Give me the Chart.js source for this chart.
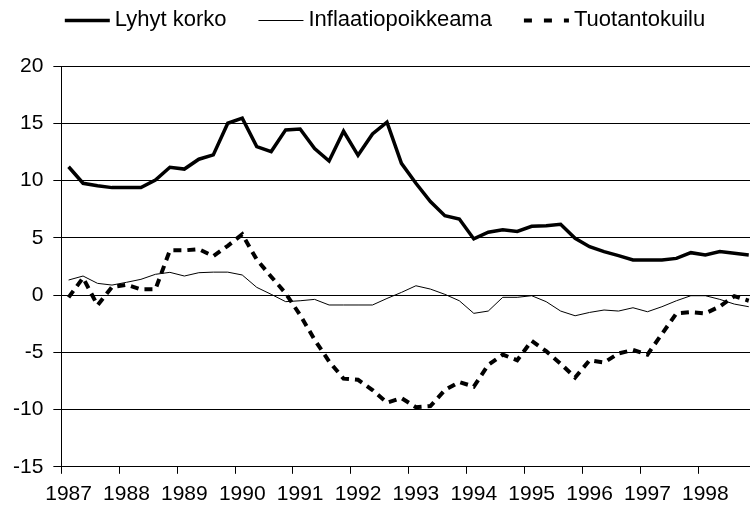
<!DOCTYPE html>
<html lang="fi">
<head>
    <meta charset="UTF-8">
    <title>Lyhyt korko, inflaatiopoikkeama ja tuotantokuilu</title>
    <style>
        html, body { margin: 0; padding: 0; overflow: hidden; background: #fff; }
        /* slightly larger than the window: the original picture is cropped on the right and bottom */
        .chart-box { width: 770px; height: 515px; }
    </style>
</head>
<body>
    <div class="chart-box">
        <canvas id="rateChart"></canvas>
    </div>

    <script src="https://cdn.jsdelivr.net/npm/chart.js"></script>
    <script>
        // Quarters 1987Q1 .. 1998Q4, only the first quarter of each year is labelled
        const years = ['1987', '1988', '1989', '1990', '1991', '1992', '1993', '1994', '1995', '1996', '1997', '1998'];
        const quarters = years.flatMap(y => [y, y + 'Q2', y + 'Q3', y + 'Q4']);

        const lyhytKorko = [
            11.2, 9.76, 9.55, 9.38, 9.38, 9.38, 10.05, 11.16,
            11.0, 11.86, 12.24, 15.0, 15.44, 12.96, 12.53, 14.42,
            14.5, 12.8, 11.7, 14.3, 12.2, 14.07, 15.1, 11.5,
            9.76, 8.16, 6.93, 6.64, 4.9, 5.48, 5.7, 5.55,
            6.0, 6.06, 6.18, 4.95, 4.22, 3.79, 3.44, 3.06,
            3.06, 3.06, 3.2, 3.7, 3.5, 3.79, 3.64, 3.5
        ];

        const inflaatiopoikkeama = [
            1.31, 1.66, 1.02, 0.87, 1.11, 1.37, 1.81, 1.98,
            1.66, 1.95, 2.0, 2.0, 1.75, 0.67, 0.06, -0.58,
            -0.5, -0.38, -0.87, -0.87, -0.87, -0.87, -0.3, 0.23,
            0.81, 0.52, 0.06, -0.5, -1.6, -1.4, -0.2, -0.2,
            -0.06, -0.58, -1.4, -1.81, -1.52, -1.31, -1.4, -1.11,
            -1.46, -1.02, -0.5, -0.06, -0.06, -0.38, -0.79, -1.02
        ];

        const tuotantokuilu = [
            -0.2, 1.5, -0.9, 0.7, 0.9, 0.5, 0.5, 3.9,
            3.9, 4.0, 3.4, 4.3, 5.3, 3.1, 1.6, 0.15,
            -1.75, -3.9, -5.8, -7.3, -7.4, -8.3, -9.4, -9.0,
            -9.8, -9.7, -8.3, -7.6, -8.0, -6.1, -5.2, -5.7,
            -4.0, -4.9, -6.0, -7.2, -5.7, -5.9, -5.1, -4.8,
            -5.2, -3.4, -1.6, -1.5, -1.6, -1.0, -0.1, -0.5
        ];

        const yMin = -15;
        const yMax = 20;
        const yStep = 5;

        const fontFamily = "'Liberation Sans', Arial, sans-serif";
        const tickFont = { family: fontFamily, size: 21 };

        // Legend drawn by hand so the dashed sample looks like the original (line, small gap, text)
        const lineLegend = {
            id: 'lineLegend',
            afterDraw(chart, args, opts) {
                const ctx = chart.ctx;
                ctx.save();
                ctx.font = opts.font;
                ctx.textBaseline = 'middle';
                ctx.textAlign = 'left';

                const items = chart.data.datasets.map(ds => ({
                    ds: ds,
                    textWidth: ctx.measureText(ds.label).width
                }));
                let total = opts.itemGap * (items.length - 1);
                items.forEach(it => { total += opts.boxWidth + opts.textGap + it.textWidth; });

                let x = chart.width / 2 - total / 2;
                const y = opts.y;
                items.forEach(it => {
                    ctx.beginPath();
                    ctx.strokeStyle = it.ds.borderColor;
                    ctx.lineWidth = it.ds.borderWidth;
                    ctx.lineCap = 'butt';
                    ctx.setLineDash(it.ds.legendDash || []);
                    ctx.moveTo(x, y + 0.5);
                    ctx.lineTo(x + opts.boxWidth, y + 0.5);
                    ctx.stroke();
                    ctx.setLineDash([]);

                    x += opts.boxWidth + opts.textGap;
                    ctx.fillStyle = '#000';
                    ctx.fillText(it.ds.label, x, y);
                    x += it.textWidth + opts.itemGap;
                });
                ctx.restore();
            }
        };

        new Chart(document.getElementById('rateChart'), {
            type: 'line',
            data: {
                labels: quarters,
                datasets: [
                    {
                        label: 'Lyhyt korko',
                        data: lyhytKorko,
                        borderColor: '#000',
                        backgroundColor: '#000',
                        borderWidth: 3.5,
                        borderJoinStyle: 'miter',
                        fill: false
                    },
                    {
                        label: 'Inflaatiopoikkeama',
                        data: inflaatiopoikkeama,
                        borderColor: '#000',
                        backgroundColor: '#000',
                        borderWidth: 1,
                        fill: false
                    },
                    {
                        label: 'Tuotantokuilu',
                        data: tuotantokuilu,
                        borderColor: '#000',
                        backgroundColor: '#000',
                        borderWidth: 4,
                        borderDash: [8, 6],
                        legendDash: [8, 12],
                        fill: false
                    }
                ]
            },
            options: {
                responsive: true,
                maintainAspectRatio: false,
                animation: false,
                layout: { padding: { left: 3, right: 14, top: 66, bottom: 0 } },
                elements: {
                    point: { radius: 0, hoverRadius: 0 },
                    line: { tension: 0 }
                },
                plugins: {
                    tooltip: { enabled: false },
                    legend: { display: false },
                    lineLegend: {
                        font: '22px ' + fontFamily,
                        y: 20,
                        boxWidth: 45,
                        textGap: 5,
                        itemGap: 32
                    }
                },
                scales: {
                    x: {
                        offset: true,
                        grid: {
                            offset: true,
                            drawOnChartArea: false,
                            drawTicks: true,
                            tickLength: 7,
                            tickColor: ctx => (ctx.index !== undefined && ctx.index % 4 === 0) ? '#000' : 'rgba(0,0,0,0)'
                        },
                        border: { display: true, color: '#000', width: 1 },
                        ticks: {
                            autoSkip: false,
                            maxRotation: 0,
                            padding: 8,
                            color: '#000',
                            font: tickFont,
                            callback: (value, index) => index % 4 === 0 ? quarters[index] : ''
                        }
                    },
                    y: {
                        min: yMin,
                        max: yMax,
                        grid: {
                            color: '#000',
                            lineWidth: 1,
                            tickLength: 8,
                            tickColor: '#000'
                        },
                        border: { display: true, color: '#000', width: 1 },
                        ticks: {
                            stepSize: yStep,
                            padding: 10,
                            color: '#000',
                            font: tickFont
                        }
                    }
                }
            },
            plugins: [lineLegend]
        });
    </script>
</body>
</html>
